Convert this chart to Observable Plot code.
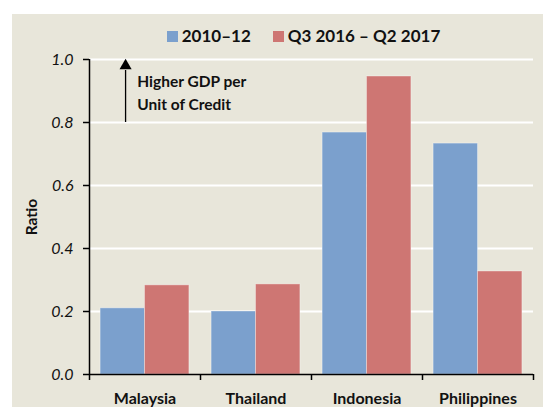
<!DOCTYPE html>
<html>
<head>
<meta charset="utf-8">
<script src="https://cdn.jsdelivr.net/npm/d3@7"></script>
<script src="https://cdn.jsdelivr.net/npm/@observablehq/plot@0.6"></script>
<style>
  html, body { margin: 0; padding: 0; background: #fff; }
  body { width: 543px; height: 407px; position: relative; overflow: hidden; font-family: Lato, "Open Sans", sans-serif; }
  #bg { position: absolute; left: 12px; top: 14px; width: 531px; height: 393px; background: #E8E6DA; }
  #legend { position: absolute; left: 0; top: 25px; width: 543px; text-align: center; font-weight: bold; font-size: 17px; color: #111; padding-left: 64px; box-sizing: border-box; }
  #legend span.item { margin: 0 11px; white-space: nowrap; }
  #legend span.sw { display: inline-block; width: 11px; height: 11px; margin-right: 4px; }
  #chart { position: absolute; left: 0; top: 0; }
</style>
</head>
<body>
<div id="bg"></div>
<div id="legend"></div>
<div id="chart"></div>
<script>
const countries = ["Malaysia", "Thailand", "Indonesia", "Philippines"];
const seriesNames = ["2010–12", "Q3 2016 – Q2 2017"];
const series2010 = [0.21, 0.20, 0.768, 0.733];
const series2016 = [0.283, 0.286, 0.946, 0.327];
const colors = ["#7BA0CD", "#CE7673"];
const yTicks = [0, 0.2, 0.4, 0.6, 0.8, 1.0];
const annotationLines = ["Higher GDP per", "Unit of Credit"];

const rows = [];
countries.forEach((c, i) => {
  [series2010, series2016].forEach((s, j) => {
    rows.push({country: c, idx: i, series: seriesNames[j], sj: j, value: s[i]});
  });
});

// legend
const legend = document.getElementById("legend");
seriesNames.forEach((n, j) => {
  const item = document.createElement("span");
  item.className = "item";
  const sw = document.createElement("span");
  sw.className = "sw";
  sw.style.background = colors[j];
  item.appendChild(sw);
  item.appendChild(document.createTextNode(n));
  legend.appendChild(item);
});

const bounds = d3.range(countries.length + 1);

const chart = Plot.plot({
  width: 543,
  height: 407,
  marginLeft: 89,
  marginRight: 10,
  marginTop: 59,
  marginBottom: 33,
  style: {background: "transparent", fontFamily: "Lato, 'Open Sans', sans-serif", color: "#111"},
  x: {type: "linear", domain: [0, countries.length], axis: null},
  y: {type: "linear", domain: [0, 1], axis: null},
  color: {domain: seriesNames, range: colors},
  marks: [
    Plot.gridY(yTicks.filter(d => d > 0), {stroke: "#fff", strokeOpacity: 1, strokeWidth: 2}),
    Plot.rectY(rows, {
      x1: d => d.idx + 0.1 + d.sj * 0.4,
      x2: d => d.idx + 0.5 + d.sj * 0.4,
      y1: 0,
      y2: "value",
      fill: "series",
      stroke: "#fff",
      strokeOpacity: 0.35,
      strokeWidth: 1
    }),
    Plot.ruleX([0], {y1: 0, y2: 1, stroke: "#000", strokeWidth: 1.5}),
    Plot.ruleY([0], {stroke: "#000", strokeWidth: 1.5}),
    Plot.axisY({ticks: yTicks, tickSize: 6, tickFormat: d => d.toFixed(1), fontSize: 16, fontStyle: "italic", tickPadding: 10, label: null, stroke: "#000", strokeWidth: 1.5}),
    Plot.axisX({ticks: bounds, tickSize: 6, tickFormat: () => "", label: null, stroke: "#000", strokeWidth: 1.5}),
    Plot.text(countries, {x: (d, i) => i + 0.5, y: () => 0, text: d => d, dy: 24, fontSize: 16, fontWeight: "bold", lineAnchor: "middle"}),
    Plot.ruleX([0.325], {y1: () => 0.8, y2: () => 0.965, stroke: "#000", strokeWidth: 1.3}),
    Plot.dot([0.325], {x: d => d, y: () => 0.98, symbol: "triangle", r: 4.5, fill: "#000", stroke: null}),
    Plot.text(annotationLines, {x: () => 0.43, y: (d, i) => 0.927 - i * 0.07, text: d => d, textAnchor: "start", fontSize: 15.5, fontWeight: "bold", lineAnchor: "middle"}),
    Plot.text(["Ratio"], {x: () => 0, y: () => 0.5, text: d => d, dx: -57, rotate: -90, fontSize: 15.5, fontWeight: "bold", lineAnchor: "middle"})
  ]
});
document.getElementById("chart").appendChild(chart);
</script>
</body>
</html>
